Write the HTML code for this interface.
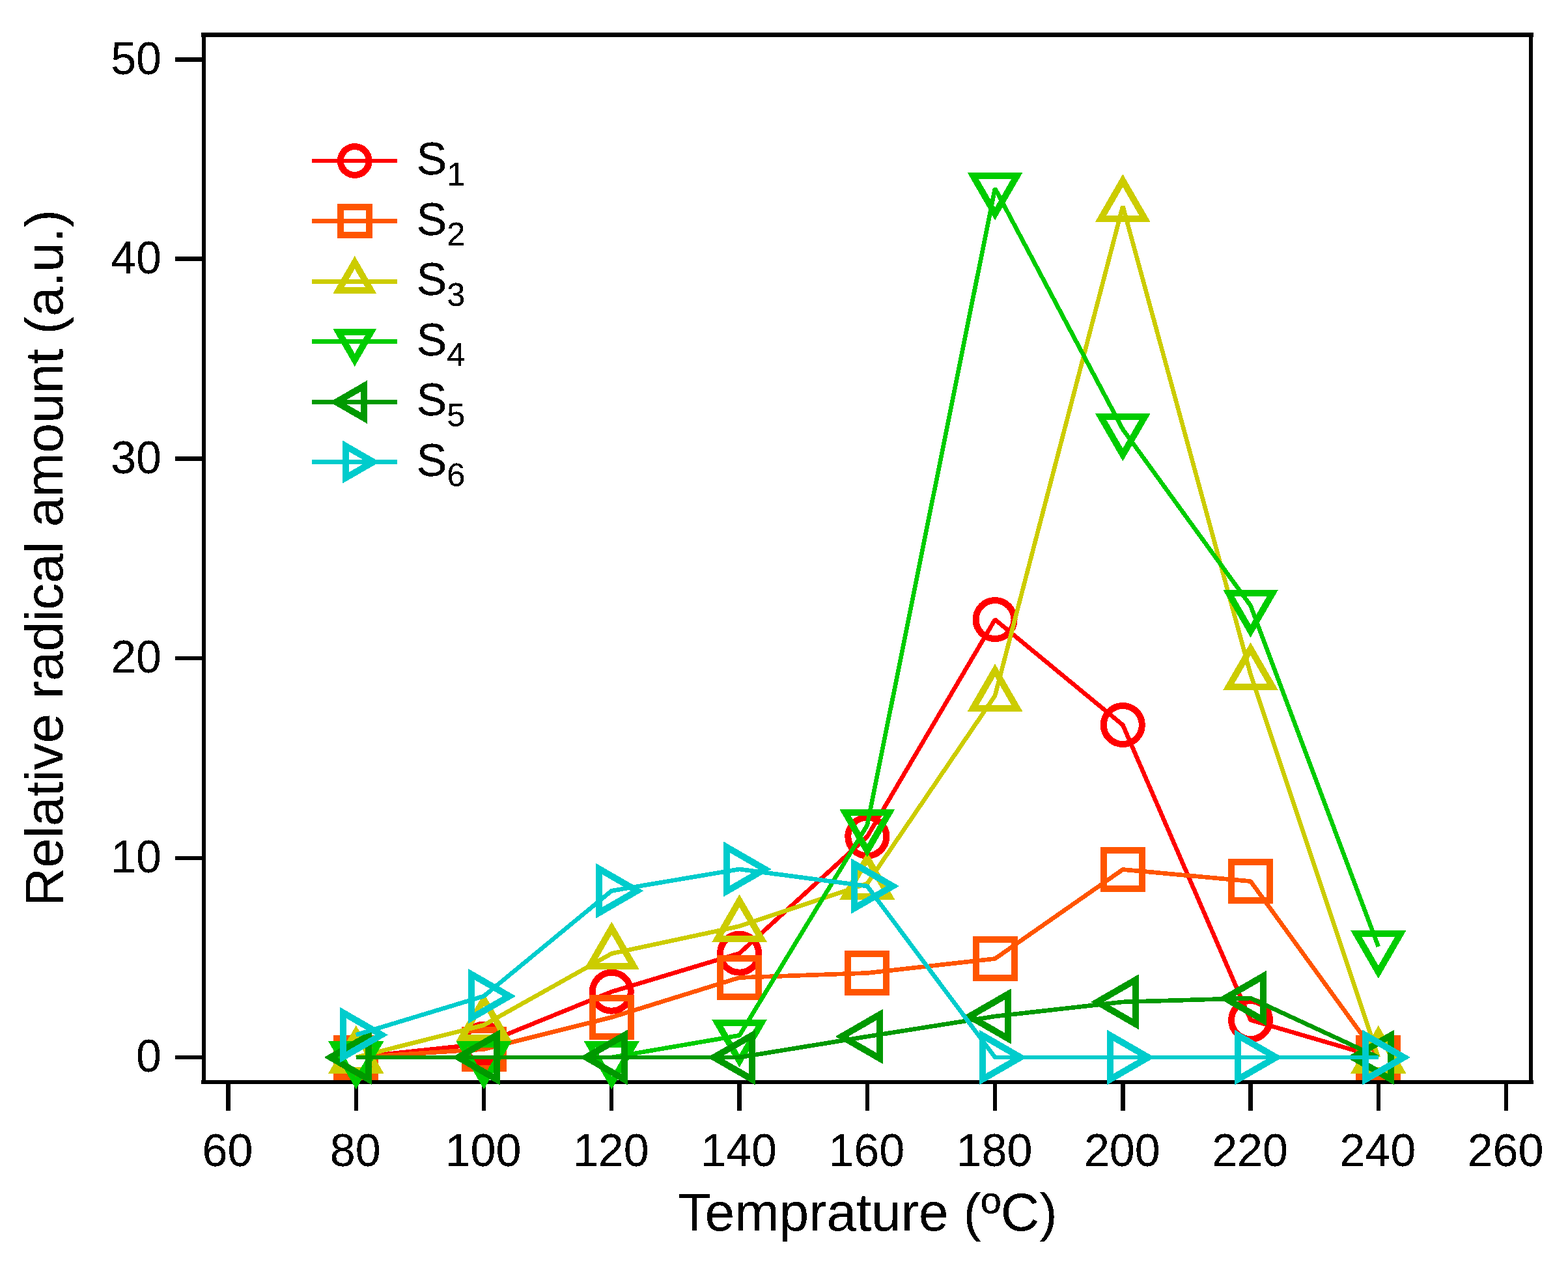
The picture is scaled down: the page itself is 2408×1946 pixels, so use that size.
<!DOCTYPE html>
<html lang="en"><head><meta charset="utf-8"><title>Relative radical amount vs Temprature</title>
<style>html,body{margin:0;padding:0;background:#fff}body{width:2408px;height:1946px;overflow:hidden}svg{display:block}text{font-family:'Liberation Sans', sans-serif;fill:#000}</style>
</head><body>
<svg width="2408" height="1946" viewBox="0 0 2408 1946" role="img" aria-label="Relative radical amount versus temperature for samples S1 to S6">
<defs><filter id="aa" x="-5%" y="-20%" width="110%" height="140%" color-interpolation-filters="sRGB"><feComponentTransfer><feFuncA type="discrete" tableValues="0 0 1 1 1"/></feComponentTransfer></filter></defs>
<rect x="0" y="0" width="2408" height="1946" fill="#ffffff"/>
<g fill="#000" shape-rendering="crispEdges">
<rect x="309" y="50" width="2046" height="7"/>
<rect x="309" y="1659" width="2046" height="6"/>
<rect x="310" y="50" width="6" height="1615"/>
<rect x="2348" y="50" width="6" height="1615"/>
<rect x="269" y="88" width="42" height="7"/>
<rect x="269" y="394" width="42" height="7"/>
<rect x="269" y="701" width="42" height="7"/>
<rect x="269" y="1008" width="42" height="6"/>
<rect x="269" y="1315" width="42" height="6"/>
<rect x="269" y="1621" width="42" height="6"/>
<rect x="347" y="1664" width="7" height="42"/>
<rect x="544" y="1664" width="6" height="42"/>
<rect x="740" y="1664" width="6" height="42"/>
<rect x="936" y="1664" width="6" height="42"/>
<rect x="1132" y="1664" width="7" height="42"/>
<rect x="1329" y="1664" width="6" height="42"/>
<rect x="1525" y="1664" width="6" height="42"/>
<rect x="1721" y="1664" width="7" height="42"/>
<rect x="1917" y="1664" width="7" height="42"/>
<rect x="2114" y="1664" width="6" height="42"/>
<rect x="2310" y="1664" width="6" height="42"/>
</g>
<g font-size="70" filter="url(#aa)">
<text x="248" y="113.5" text-anchor="end">50</text>
<text x="248" y="420" text-anchor="end">40</text>
<text x="248" y="726.5" text-anchor="end">30</text>
<text x="248" y="1033" text-anchor="end">20</text>
<text x="248" y="1339.5" text-anchor="end">10</text>
<text x="248" y="1646" text-anchor="end">0</text>
<text x="349.55" y="1791" text-anchor="middle">60</text>
<text x="545.8" y="1791" text-anchor="middle">80</text>
<text x="742.05" y="1791" text-anchor="middle">100</text>
<text x="938.3" y="1791" text-anchor="middle">120</text>
<text x="1134.55" y="1791" text-anchor="middle">140</text>
<text x="1330.8" y="1791" text-anchor="middle">160</text>
<text x="1527.05" y="1791" text-anchor="middle">180</text>
<text x="1723.3" y="1791" text-anchor="middle">200</text>
<text x="1919.55" y="1791" text-anchor="middle">220</text>
<text x="2115.8" y="1791" text-anchor="middle">240</text>
<text x="2312.05" y="1791" text-anchor="middle">260</text>
</g>
<text x="1332.5" y="1890" font-size="82.1" text-anchor="middle" filter="url(#aa)">Temprature (ºC)</text>
<text transform="translate(96,857) rotate(-90)" font-size="81.92" text-anchor="middle" filter="url(#aa)">Relative radical amount (a.u.)</text>
<g shape-rendering="crispEdges">
<polyline points="546.8,1624 743.05,1603 939.3,1523.2 1135.55,1464.2 1331.8,1285 1528.05,951.6 1724.3,1113.5 1920.55,1566.6 2116.8,1624" fill="none" stroke="#ff0000" stroke-width="6.67" stroke-linejoin="bevel" stroke-linecap="butt"/>
<circle cx="546.8" cy="1624" r="29.5" stroke="#ff0000" stroke-width="10" fill="none"/>
<circle cx="743.05" cy="1603" r="29.5" stroke="#ff0000" stroke-width="10" fill="none"/>
<circle cx="939.3" cy="1523.2" r="29.5" stroke="#ff0000" stroke-width="10" fill="none"/>
<circle cx="1135.55" cy="1464.2" r="29.5" stroke="#ff0000" stroke-width="10" fill="none"/>
<circle cx="1331.8" cy="1285" r="29.5" stroke="#ff0000" stroke-width="10" fill="none"/>
<circle cx="1528.05" cy="951.6" r="29.5" stroke="#ff0000" stroke-width="10" fill="none"/>
<circle cx="1724.3" cy="1113.5" r="29.5" stroke="#ff0000" stroke-width="10" fill="none"/>
<circle cx="1920.55" cy="1566.6" r="29.5" stroke="#ff0000" stroke-width="10" fill="none"/>
<circle cx="2116.8" cy="1624" r="29.5" stroke="#ff0000" stroke-width="10" fill="none"/>
<polyline points="546.8,1624 743.05,1611.5 939.3,1562.5 1135.55,1501.5 1331.8,1494.5 1528.05,1472.5 1724.3,1335.5 1920.55,1353.6 2116.8,1624" fill="none" stroke="#ff5500" stroke-width="6.67" stroke-linejoin="bevel" stroke-linecap="butt"/>
<rect x="517.3" y="1594.5" width="59" height="59" stroke="#ff5500" stroke-width="10" fill="none"/>
<rect x="713.55" y="1582" width="59" height="59" stroke="#ff5500" stroke-width="10" fill="none"/>
<rect x="909.8" y="1533" width="59" height="59" stroke="#ff5500" stroke-width="10" fill="none"/>
<rect x="1106.05" y="1472" width="59" height="59" stroke="#ff5500" stroke-width="10" fill="none"/>
<rect x="1302.3" y="1465" width="59" height="59" stroke="#ff5500" stroke-width="10" fill="none"/>
<rect x="1498.55" y="1443" width="59" height="59" stroke="#ff5500" stroke-width="10" fill="none"/>
<rect x="1694.8" y="1306" width="59" height="59" stroke="#ff5500" stroke-width="10" fill="none"/>
<rect x="1891.05" y="1324.1" width="59" height="59" stroke="#ff5500" stroke-width="10" fill="none"/>
<rect x="2087.3" y="1594.5" width="59" height="59" stroke="#ff5500" stroke-width="10" fill="none"/>
<polyline points="546.8,1624 743.05,1574.5 939.3,1464.6 1135.55,1422.6 1331.8,1357.2 1528.05,1068.5 1724.3,316.5 1920.55,1035.7 2116.8,1624" fill="none" stroke="#cccc00" stroke-width="6.67" stroke-linejoin="bevel" stroke-linecap="butt"/>
<polygon points="546.8,1584.9 580.66,1643.55 512.94,1643.55" stroke="#cccc00" stroke-width="10" fill="none" stroke-linejoin="miter" stroke-miterlimit="10"/>
<polygon points="743.05,1535.4 776.91,1594.05 709.19,1594.05" stroke="#cccc00" stroke-width="10" fill="none" stroke-linejoin="miter" stroke-miterlimit="10"/>
<polygon points="939.3,1425.5 973.16,1484.15 905.44,1484.15" stroke="#cccc00" stroke-width="10" fill="none" stroke-linejoin="miter" stroke-miterlimit="10"/>
<polygon points="1135.55,1383.5 1169.41,1442.15 1101.69,1442.15" stroke="#cccc00" stroke-width="10" fill="none" stroke-linejoin="miter" stroke-miterlimit="10"/>
<polygon points="1331.8,1318.1 1365.66,1376.75 1297.94,1376.75" stroke="#cccc00" stroke-width="10" fill="none" stroke-linejoin="miter" stroke-miterlimit="10"/>
<polygon points="1528.05,1029.4 1561.91,1088.05 1494.19,1088.05" stroke="#cccc00" stroke-width="10" fill="none" stroke-linejoin="miter" stroke-miterlimit="10"/>
<polygon points="1724.3,277.4 1758.16,336.05 1690.44,336.05" stroke="#cccc00" stroke-width="10" fill="none" stroke-linejoin="miter" stroke-miterlimit="10"/>
<polygon points="1920.55,996.6 1954.41,1055.25 1886.69,1055.25" stroke="#cccc00" stroke-width="10" fill="none" stroke-linejoin="miter" stroke-miterlimit="10"/>
<polygon points="2116.8,1584.9 2150.66,1643.55 2082.94,1643.55" stroke="#cccc00" stroke-width="10" fill="none" stroke-linejoin="miter" stroke-miterlimit="10"/>
<polyline points="546.8,1624 743.05,1624 939.3,1624 1135.55,1590.3 1331.8,1267.5 1528.05,289.3 1724.3,659.4 1920.55,930.2 2116.8,1453.85" fill="none" stroke="#00cc00" stroke-width="6.67" stroke-linejoin="bevel" stroke-linecap="butt"/>
<polygon points="546.8,1663.1 580.66,1604.45 512.94,1604.45" stroke="#00cc00" stroke-width="10" fill="none" stroke-linejoin="miter" stroke-miterlimit="10"/>
<polygon points="743.05,1663.1 776.91,1604.45 709.19,1604.45" stroke="#00cc00" stroke-width="10" fill="none" stroke-linejoin="miter" stroke-miterlimit="10"/>
<polygon points="939.3,1663.1 973.16,1604.45 905.44,1604.45" stroke="#00cc00" stroke-width="10" fill="none" stroke-linejoin="miter" stroke-miterlimit="10"/>
<polygon points="1135.55,1629.4 1169.41,1570.75 1101.69,1570.75" stroke="#00cc00" stroke-width="10" fill="none" stroke-linejoin="miter" stroke-miterlimit="10"/>
<polygon points="1331.8,1306.6 1365.66,1247.95 1297.94,1247.95" stroke="#00cc00" stroke-width="10" fill="none" stroke-linejoin="miter" stroke-miterlimit="10"/>
<polygon points="1528.05,328.4 1561.91,269.75 1494.19,269.75" stroke="#00cc00" stroke-width="10" fill="none" stroke-linejoin="miter" stroke-miterlimit="10"/>
<polygon points="1724.3,698.5 1758.16,639.85 1690.44,639.85" stroke="#00cc00" stroke-width="10" fill="none" stroke-linejoin="miter" stroke-miterlimit="10"/>
<polygon points="1920.55,969.3 1954.41,910.65 1886.69,910.65" stroke="#00cc00" stroke-width="10" fill="none" stroke-linejoin="miter" stroke-miterlimit="10"/>
<polygon points="2116.8,1492.95 2150.66,1434.3 2082.94,1434.3" stroke="#00cc00" stroke-width="10" fill="none" stroke-linejoin="miter" stroke-miterlimit="10"/>
<polyline points="546.8,1624 743.05,1624 939.3,1624 1135.55,1624 1331.8,1592 1528.05,1561 1724.3,1538.9 1920.55,1533.1 2116.8,1624" fill="none" stroke="#009900" stroke-width="6.67" stroke-linejoin="bevel" stroke-linecap="butt"/>
<polygon points="507.7,1624 566.35,1590.14 566.35,1657.86" stroke="#009900" stroke-width="10" fill="none" stroke-linejoin="miter" stroke-miterlimit="10"/>
<polygon points="703.95,1624 762.6,1590.14 762.6,1657.86" stroke="#009900" stroke-width="10" fill="none" stroke-linejoin="miter" stroke-miterlimit="10"/>
<polygon points="900.2,1624 958.85,1590.14 958.85,1657.86" stroke="#009900" stroke-width="10" fill="none" stroke-linejoin="miter" stroke-miterlimit="10"/>
<polygon points="1096.45,1624 1155.1,1590.14 1155.1,1657.86" stroke="#009900" stroke-width="10" fill="none" stroke-linejoin="miter" stroke-miterlimit="10"/>
<polygon points="1292.7,1592 1351.35,1558.14 1351.35,1625.86" stroke="#009900" stroke-width="10" fill="none" stroke-linejoin="miter" stroke-miterlimit="10"/>
<polygon points="1488.95,1561 1547.6,1527.14 1547.6,1594.86" stroke="#009900" stroke-width="10" fill="none" stroke-linejoin="miter" stroke-miterlimit="10"/>
<polygon points="1685.2,1538.9 1743.85,1505.04 1743.85,1572.76" stroke="#009900" stroke-width="10" fill="none" stroke-linejoin="miter" stroke-miterlimit="10"/>
<polygon points="1881.45,1533.1 1940.1,1499.24 1940.1,1566.96" stroke="#009900" stroke-width="10" fill="none" stroke-linejoin="miter" stroke-miterlimit="10"/>
<polygon points="2077.7,1624 2136.35,1590.14 2136.35,1657.86" stroke="#009900" stroke-width="10" fill="none" stroke-linejoin="miter" stroke-miterlimit="10"/>
<polyline points="546.8,1589.5 743.05,1530 939.3,1368.2 1135.55,1335 1331.8,1361 1528.05,1624 1724.3,1624 1920.55,1624 2116.8,1624" fill="none" stroke="#00cccc" stroke-width="6.67" stroke-linejoin="bevel" stroke-linecap="butt"/>
<polygon points="585.9,1589.5 527.25,1555.64 527.25,1623.36" stroke="#00cccc" stroke-width="10" fill="none" stroke-linejoin="miter" stroke-miterlimit="10"/>
<polygon points="782.15,1530 723.5,1496.14 723.5,1563.86" stroke="#00cccc" stroke-width="10" fill="none" stroke-linejoin="miter" stroke-miterlimit="10"/>
<polygon points="978.4,1368.2 919.75,1334.34 919.75,1402.06" stroke="#00cccc" stroke-width="10" fill="none" stroke-linejoin="miter" stroke-miterlimit="10"/>
<polygon points="1174.65,1335 1116,1301.14 1116,1368.86" stroke="#00cccc" stroke-width="10" fill="none" stroke-linejoin="miter" stroke-miterlimit="10"/>
<polygon points="1370.9,1361 1312.25,1327.14 1312.25,1394.86" stroke="#00cccc" stroke-width="10" fill="none" stroke-linejoin="miter" stroke-miterlimit="10"/>
<polygon points="1567.15,1624 1508.5,1590.14 1508.5,1657.86" stroke="#00cccc" stroke-width="10" fill="none" stroke-linejoin="miter" stroke-miterlimit="10"/>
<polygon points="1763.4,1624 1704.75,1590.14 1704.75,1657.86" stroke="#00cccc" stroke-width="10" fill="none" stroke-linejoin="miter" stroke-miterlimit="10"/>
<polygon points="1959.65,1624 1901,1590.14 1901,1657.86" stroke="#00cccc" stroke-width="10" fill="none" stroke-linejoin="miter" stroke-miterlimit="10"/>
<polygon points="2155.9,1624 2097.25,1590.14 2097.25,1657.86" stroke="#00cccc" stroke-width="10" fill="none" stroke-linejoin="miter" stroke-miterlimit="10"/>
</g>
<g shape-rendering="crispEdges">
<rect x="479" y="244" width="131" height="6" fill="#ff0000"/>
<circle cx="544.75" cy="247" r="21.9" stroke="#ff0000" stroke-width="10" fill="none"/>
<rect x="479" y="336" width="131" height="7" fill="#ff5500"/>
<rect x="522.85" y="317.6" width="43.8" height="43.8" stroke="#ff5500" stroke-width="10" fill="none"/>
<rect x="479" y="429" width="131" height="7" fill="#cccc00"/>
<polygon points="544.75,403.05 569.39,445.73 520.11,445.73" stroke="#cccc00" stroke-width="10" fill="none" stroke-linejoin="miter" stroke-miterlimit="10"/>
<rect x="479" y="521" width="131" height="7" fill="#00cc00"/>
<polygon points="544.75,552.95 569.39,510.27 520.11,510.27" stroke="#00cc00" stroke-width="10" fill="none" stroke-linejoin="miter" stroke-miterlimit="10"/>
<rect x="479" y="614" width="131" height="7" fill="#009900"/>
<polygon points="516.3,617.5 558.98,592.86 558.98,642.14" stroke="#009900" stroke-width="10" fill="none" stroke-linejoin="miter" stroke-miterlimit="10"/>
<rect x="479" y="706" width="131" height="7" fill="#00cccc"/>
<polygon points="573.2,709.5 530.52,684.86 530.52,734.14" stroke="#00cccc" stroke-width="10" fill="none" stroke-linejoin="miter" stroke-miterlimit="10"/>
</g>
<g font-size="70" filter="url(#aa)">
<text x="639.5" y="268.4">S<tspan font-size="50.6" dy="16.3">1</tspan></text>
<text x="639.5" y="360.9">S<tspan font-size="50.6" dy="16.3">2</tspan></text>
<text x="639.5" y="453.4">S<tspan font-size="50.6" dy="16.3">3</tspan></text>
<text x="639.5" y="545.9">S<tspan font-size="50.6" dy="16.3">4</tspan></text>
<text x="639.5" y="638.4">S<tspan font-size="50.6" dy="16.3">5</tspan></text>
<text x="639.5" y="730.9">S<tspan font-size="50.6" dy="16.3">6</tspan></text>
</g>
</svg>
</body></html>
